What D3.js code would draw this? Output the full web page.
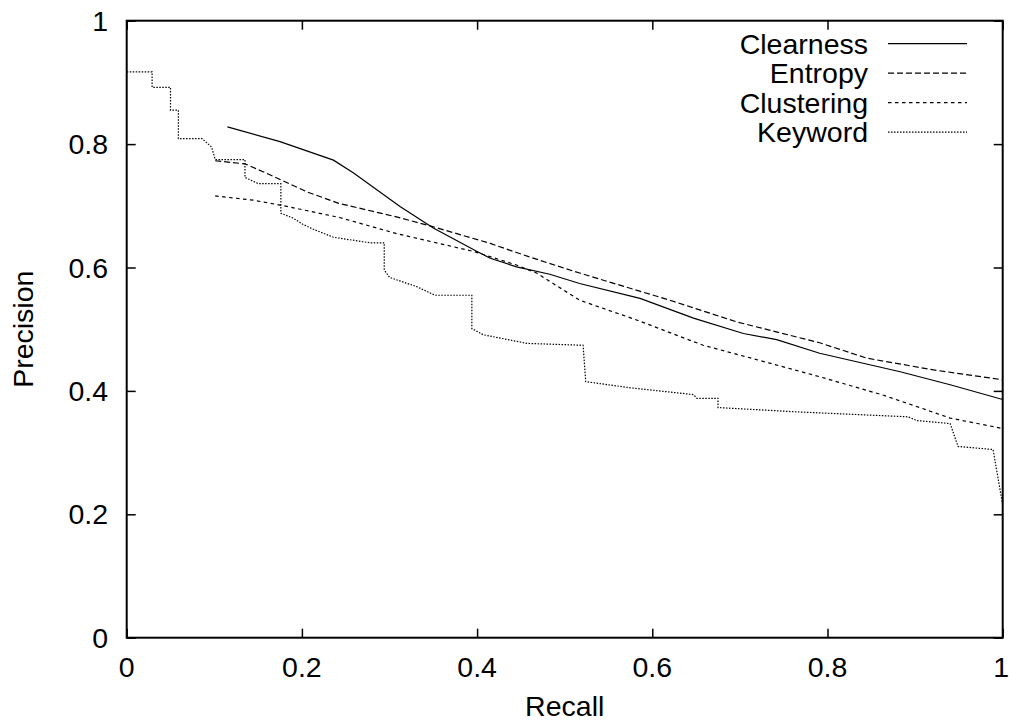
<!DOCTYPE html>
<html>
<head>
<meta charset="utf-8">
<script src="https://cdn.jsdelivr.net/npm/d3@7"></script>
<style>
  body { margin: 0; background: #fff; }
  #chart text { font-family: "Liberation Sans", Arial, sans-serif; font-size: 28.5px; fill: #000; }
</style>
</head>
<body>
<div id="chart"></div>
<script>
// recall / precision pairs
var clearness = [[0.115,0.828],[0.175,0.804],[0.236,0.774],[0.259,0.753],[0.312,0.699],[0.350,0.664],
  [0.400,0.626],[0.415,0.615],[0.445,0.601],[0.483,0.589],[0.517,0.574],[0.586,0.550],[0.647,0.518],
  [0.704,0.493],[0.742,0.483],[0.791,0.461],[0.883,0.431],[0.940,0.410],[1.0,0.386]];

var entropy = [[0.101,0.773],[0.135,0.768],[0.164,0.750],[0.205,0.723],[0.242,0.704],[0.308,0.682],
  [0.350,0.666],[0.415,0.639],[0.460,0.617],[0.517,0.591],[0.620,0.547],[0.696,0.512],[0.791,0.478],
  [0.845,0.453],[0.921,0.434],[1.0,0.418]];

var clustering = [[0.101,0.716],[0.145,0.709],[0.183,0.699],[0.243,0.681],[0.308,0.655],[0.396,0.626],
  [0.445,0.604],[0.468,0.591],[0.517,0.547],[0.582,0.515],[0.658,0.474],[0.734,0.445],[0.791,0.423],
  [0.864,0.393],[0.940,0.356],[1.0,0.339]];

var keyword = [[0,0.917],[0.029,0.917],[0.029,0.892],[0.050,0.892],[0.050,0.855],[0.059,0.855],
  [0.059,0.809],[0.086,0.809],[0.097,0.795],[0.101,0.775],[0.135,0.775],[0.135,0.746],[0.150,0.736],
  [0.176,0.736],[0.176,0.688],[0.190,0.680],[0.201,0.670],[0.213,0.662],[0.236,0.649],[0.278,0.640],
  [0.294,0.640],[0.294,0.596],[0.300,0.584],[0.331,0.569],[0.352,0.555],[0.394,0.555],[0.394,0.501],
  [0.407,0.491],[0.457,0.477],[0.521,0.474],[0.524,0.415],[0.575,0.405],[0.647,0.394],[0.651,0.388],
  [0.675,0.388],[0.675,0.373],[0.765,0.366],[0.892,0.358],[0.902,0.352],[0.940,0.347],[0.949,0.310],
  [0.989,0.305],[1.0,0.215]];

var series_names = ["Clearness", "Entropy", "Clustering", "Keyword"];
var series_data = [clearness, entropy, clustering, keyword];
var dashes = ["none", "6,3", "3.5,3.5", "1.5,1.5"];
var x_ticks = [0, 0.2, 0.4, 0.6, 0.8, 1];
var y_ticks = [0, 0.2, 0.4, 0.6, 0.8, 1];

var width = 1009, height = 724;
var margin = {left: 126.7, right: 6.3, top: 20.7, bottom: 86.3};

var svg = d3.select("#chart").append("svg")
    .attr("width", width)
    .attr("height", height);

var x = d3.scaleLinear().domain([0, 1]).range([margin.left, width - margin.right]);
var y = d3.scaleLinear().domain([0, 1]).range([height - margin.bottom, margin.top]);

// ticks on all four sides, pointing in (gnuplot style)
var tick_len = 9;
svg.append("g")
    .attr("transform", "translate(0," + y(0) + ")")
    .call(d3.axisBottom(x).tickValues(x_ticks).tickSize(-tick_len).tickFormat(""))
    .call(function(g){ g.select(".domain").remove(); });
svg.append("g")
    .attr("transform", "translate(0," + y(1) + ")")
    .call(d3.axisTop(x).tickValues(x_ticks).tickSize(-tick_len).tickFormat(""))
    .call(function(g){ g.select(".domain").remove(); });
svg.append("g")
    .attr("transform", "translate(" + x(0) + ",0)")
    .call(d3.axisLeft(y).tickValues(y_ticks).tickSize(-tick_len).tickFormat(""))
    .call(function(g){ g.select(".domain").remove(); });
svg.append("g")
    .attr("transform", "translate(" + x(1) + ",0)")
    .call(d3.axisRight(y).tickValues(y_ticks).tickSize(-tick_len).tickFormat(""))
    .call(function(g){ g.select(".domain").remove(); });
svg.selectAll(".tick line").attr("stroke", "#000").attr("stroke-width", 1.5);

// tick labels (the last one sits against the right edge)
svg.selectAll(".xlab").data(x_ticks).enter().append("text")
    .attr("x", function(d){ return d == 1 ? width : x(d); })
    .attr("y", 677)
    .attr("text-anchor", function(d){ return d == 1 ? "end" : "middle"; })
    .text(function(d){ return d3.format("")(d); });
svg.selectAll(".ylab").data(y_ticks).enter().append("text")
    .attr("x", 108)
    .attr("y", function(d){ return y(d) + 10; })
    .attr("text-anchor", "end")
    .text(function(d){ return d3.format("")(d); });

// frame
svg.append("rect")
    .attr("x", x(0)).attr("y", y(1))
    .attr("width", x(1) - x(0)).attr("height", y(0) - y(1))
    .attr("fill", "none").attr("stroke", "#000").attr("stroke-width", 2);

var line = d3.line()
    .x(function(d){ return x(d[0]); })
    .y(function(d){ return y(d[1]); });

svg.selectAll(".series").data(series_data).enter().append("path")
    .attr("class", "series")
    .attr("d", line)
    .attr("fill", "none")
    .attr("stroke", "#000")
    .attr("stroke-width", 1.2)
    .attr("stroke-dasharray", function(d, i){ return dashes[i]; });

// legend
var leg_y0 = 43.7, leg_dy = 29.5;
var leg = svg.selectAll(".leg").data(series_names).enter().append("g")
    .attr("transform", function(d, i){ return "translate(0," + (leg_y0 + i * leg_dy) + ")"; });
leg.append("text")
    .attr("x", 868).attr("y", 10)
    .attr("text-anchor", "end")
    .text(function(d){ return d; });
leg.append("line")
    .attr("x1", 888).attr("x2", 967)
    .attr("stroke", "#000").attr("stroke-width", 1.2)
    .attr("stroke-dasharray", function(d, i){ return dashes[i]; });

// axis titles
svg.append("text")
    .attr("x", (x(0) + x(1)) / 2).attr("y", 716)
    .attr("text-anchor", "middle")
    .text("Recall");
svg.append("text")
    .attr("transform", "translate(33," + (y(0) + y(1)) / 2 + ") rotate(-90)")
    .attr("text-anchor", "middle")
    .text("Precision");
</script>
</body>
</html>
